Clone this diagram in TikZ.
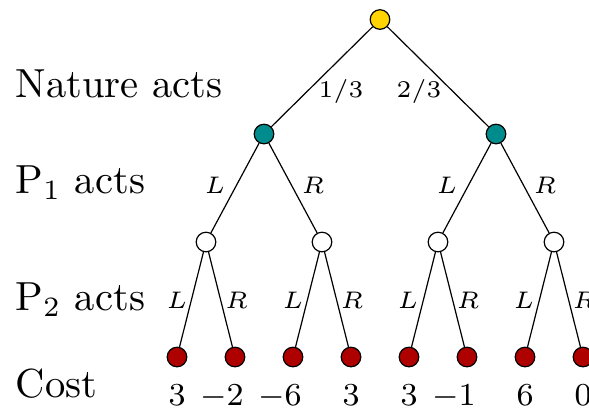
\documentclass[tikz,border=0pt]{standalone}
\definecolor{natyellow}{RGB}{255,212,0}
\definecolor{pteal}{RGB}{0,140,140}
\definecolor{leafred}{RGB}{175,0,0}
\begin{document}
\begin{tikzpicture}[x=0.25pt,y=-0.25pt,
  nd/.style={circle,draw=black,line width=0.3pt,inner sep=0pt,minimum size=4.9pt},
  natnode/.style={nd,fill=natyellow},
  ponenode/.style={nd,fill=pteal},
  ptwonode/.style={nd,fill=white},
  leafnode/.style={nd,fill=leafred},
  conn/.style={line width=0.3pt},
  lab/.style={font=\fontsize{6.3pt}{7pt}\selectfont,inner sep=0pt},
  costlab/.style={font=\fontsize{7.8pt}{9pt}\selectfont,inner sep=0pt,anchor=base},
  head/.style={anchor=base west,inner sep=0pt,font=\fontsize{10.15pt}{12pt}\selectfont}]
\useasboundingbox (0,0) rectangle (589,410);
\clip (0,0) rectangle (589,410);
% nodes
\node[natnode] (r) at (380,19.5) {};
\node[ponenode] (a) at (264,134) {};
\node[ponenode] (b) at (496,134) {};
\node[ptwonode] (aa) at (206,242) {};
\node[ptwonode] (ab) at (322,242) {};
\node[ptwonode] (ba) at (438,242) {};
\node[ptwonode] (bb) at (554,242) {};
\node[leafnode] (l1) at (177,357) {};
\node[leafnode] (l2) at (235,357) {};
\node[leafnode] (l3) at (293,357) {};
\node[leafnode] (l4) at (351,357) {};
\node[leafnode] (l5) at (409,357) {};
\node[leafnode] (l6) at (467,357) {};
\node[leafnode] (l7) at (525,357) {};
\node[leafnode] (l8) at (583,357) {};
% connectors
\draw[conn] (r) -- (a);
\draw[conn] (r) -- (b);
\draw[conn] (a) -- (aa);
\draw[conn] (a) -- (ab);
\draw[conn] (b) -- (ba);
\draw[conn] (b) -- (bb);
\draw[conn] (aa) -- (l1);
\draw[conn] (aa) -- (l2);
\draw[conn] (ab) -- (l3);
\draw[conn] (ab) -- (l4);
\draw[conn] (ba) -- (l5);
\draw[conn] (ba) -- (l6);
\draw[conn] (bb) -- (l7);
\draw[conn] (bb) -- (l8);
% edge labels
\node[lab] (p1) at (341,91) {$1/3$};
\node[lab] (p2) at (419,91) {$2/3$};
\node[lab] (e1) at (215,185) {$L$};
\node[lab] (e2) at (313,185) {$R$};
\node[lab] (e3) at (447,185) {$L$};
\node[lab] (e4) at (545,185) {$R$};
\node[lab] (f1) at (177,300) {$L$};
\node[lab] (f2) at (236.5,300) {$R$};
\node[lab] (f3) at (293,300) {$L$};
\node[lab] (f4) at (352,300) {$R$};
\node[lab] (f5) at (408,300) {$L$};
\node[lab] (f6) at (468,300) {$R$};
\node[lab] (f7) at (524,300) {$L$};
\node[lab] (f8) at (584,300) {$R$};
% costs
\node[costlab] (c1) at (177,405) {$3$};
\node[costlab] (c2) at (235,405) {$\llap{$-$}2$};
\node[costlab] (c3) at (293,405) {$\llap{$-$}6$};
\node[costlab] (c4) at (351,405) {$3$};
\node[costlab] (c5) at (409,405) {$3$};
\node[costlab] (c6) at (467,405) {$\llap{$-$}1$};
\node[costlab] (c7) at (525,405) {$6$};
\node[costlab] (c8) at (583,405) {$0$};
% headings
\node[head] (h1) at (15,97) {Nature acts};
\node[head] (h2) at (15,193) {P$_1$ acts};
\node[head] (h3) at (15,310) {P$_2$ acts};
\node[head] (h4) at (15,397) {Cost};
\end{tikzpicture}
\end{document}
